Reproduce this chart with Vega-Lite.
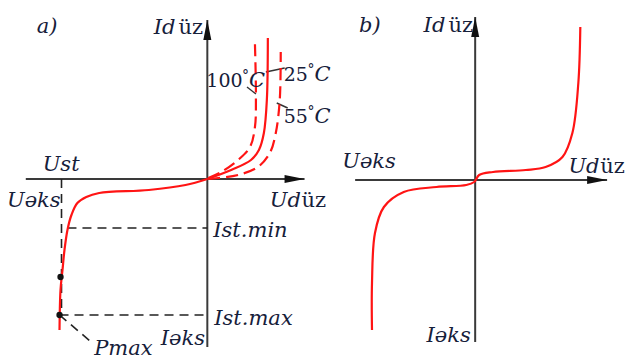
{
  "$schema": "https://vega.github.io/schema/vega-lite/v6.json",
  "width": 625,
  "height": 361,
  "autosize": {"type": "fit", "contains": "padding"},
  "padding": 0,
  "background": "white",
  "config": {"view": {"stroke": null}},
  "datasets": {
    "paths": [
      {"kind": "axis", "seg": "a_h", "i": 0, "u": 26, "v": 179},
      {"kind": "axis", "seg": "a_h", "i": 1, "u": 307, "v": 179},
      {"kind": "axis", "seg": "a_v", "i": 0, "u": 209, "v": 347},
      {"kind": "axis", "seg": "a_v", "i": 1, "u": 209, "v": 20},
      {"kind": "axis", "seg": "b_h", "i": 0, "u": 358, "v": 180},
      {"kind": "axis", "seg": "b_h", "i": 1, "u": 612, "v": 180},
      {"kind": "axis", "seg": "b_v", "i": 0, "u": 479, "v": 342},
      {"kind": "axis", "seg": "b_v", "i": 1, "u": 479, "v": 17},

      {"kind": "guide", "seg": "ust", "i": 0, "u": 62, "v": 179},
      {"kind": "guide", "seg": "ust", "i": 1, "u": 62, "v": 315},
      {"kind": "guide", "seg": "stmin", "i": 0, "u": 68, "v": 228},
      {"kind": "guide", "seg": "stmin", "i": 1, "u": 209, "v": 228},
      {"kind": "guide", "seg": "stmax", "i": 0, "u": 60, "v": 315},
      {"kind": "guide", "seg": "stmax", "i": 1, "u": 209, "v": 315},
      {"kind": "guide", "seg": "pmax", "i": 0, "u": 60, "v": 315},
      {"kind": "guide", "seg": "pmax", "i": 1, "u": 92, "v": 342},

      {"kind": "leader", "seg": "t100", "i": 0, "u": 249, "v": 87},
      {"kind": "leader", "seg": "t100", "i": 1, "u": 258, "v": 94},
      {"kind": "leader", "seg": "t25", "i": 0, "u": 268, "v": 72},
      {"kind": "leader", "seg": "t25", "i": 1, "u": 287, "v": 68},
      {"kind": "leader", "seg": "t55", "i": 0, "u": 279, "v": 103},
      {"kind": "leader", "seg": "t55", "i": 1, "u": 290, "v": 108},

      {"kind": "curve", "seg": "rev_a", "i": 0, "u": 209, "v": 179},
      {"kind": "curve", "seg": "rev_a", "i": 1, "u": 187, "v": 185},
      {"kind": "curve", "seg": "rev_a", "i": 2, "u": 150, "v": 190},
      {"kind": "curve", "seg": "rev_a", "i": 3, "u": 100, "v": 193},
      {"kind": "curve", "seg": "rev_a", "i": 4, "u": 87, "v": 197},
      {"kind": "curve", "seg": "rev_a", "i": 5, "u": 78, "v": 203},
      {"kind": "curve", "seg": "rev_a", "i": 6, "u": 72, "v": 215},
      {"kind": "curve", "seg": "rev_a", "i": 7, "u": 68, "v": 230},
      {"kind": "curve", "seg": "rev_a", "i": 8, "u": 65, "v": 250},
      {"kind": "curve", "seg": "rev_a", "i": 9, "u": 63, "v": 270},
      {"kind": "curve", "seg": "rev_a", "i": 10, "u": 61, "v": 290},
      {"kind": "curve", "seg": "rev_a", "i": 11, "u": 60, "v": 330},

      {"kind": "curve", "seg": "fwd25", "i": 0, "u": 209, "v": 179},
      {"kind": "curve", "seg": "fwd25", "i": 1, "u": 233, "v": 170},
      {"kind": "curve", "seg": "fwd25", "i": 2, "u": 253, "v": 160},
      {"kind": "curve", "seg": "fwd25", "i": 3, "u": 261, "v": 150},
      {"kind": "curve", "seg": "fwd25", "i": 4, "u": 266, "v": 133},
      {"kind": "curve", "seg": "fwd25", "i": 5, "u": 269, "v": 100},
      {"kind": "curve", "seg": "fwd25", "i": 6, "u": 270, "v": 38},

      {"kind": "curveDash", "seg": "fwd100", "i": 0, "u": 210, "v": 178},
      {"kind": "curveDash", "seg": "fwd100", "i": 1, "u": 223, "v": 172},
      {"kind": "curveDash", "seg": "fwd100", "i": 2, "u": 240, "v": 160},
      {"kind": "curveDash", "seg": "fwd100", "i": 3, "u": 252, "v": 147},
      {"kind": "curveDash", "seg": "fwd100", "i": 4, "u": 257, "v": 127},
      {"kind": "curveDash", "seg": "fwd100", "i": 5, "u": 258, "v": 97},
      {"kind": "curveDash", "seg": "fwd100", "i": 6, "u": 257, "v": 44},

      {"kind": "curveDash", "seg": "fwd55", "i": 0, "u": 210, "v": 179},
      {"kind": "curveDash", "seg": "fwd55", "i": 1, "u": 220, "v": 178},
      {"kind": "curveDash", "seg": "fwd55", "i": 2, "u": 240, "v": 175},
      {"kind": "curveDash", "seg": "fwd55", "i": 3, "u": 260, "v": 167},
      {"kind": "curveDash", "seg": "fwd55", "i": 4, "u": 272, "v": 153},
      {"kind": "curveDash", "seg": "fwd55", "i": 5, "u": 278, "v": 133},
      {"kind": "curveDash", "seg": "fwd55", "i": 6, "u": 282, "v": 100},
      {"kind": "curveDash", "seg": "fwd55", "i": 7, "u": 283, "v": 52},

      {"kind": "curve", "seg": "b", "i": 0, "u": 375, "v": 330},
      {"kind": "curve", "seg": "b", "i": 1, "u": 375, "v": 283},
      {"kind": "curve", "seg": "b", "i": 2, "u": 378, "v": 233},
      {"kind": "curve", "seg": "b", "i": 3, "u": 387, "v": 207},
      {"kind": "curve", "seg": "b", "i": 4, "u": 407, "v": 192},
      {"kind": "curve", "seg": "b", "i": 5, "u": 440, "v": 187},
      {"kind": "curve", "seg": "b", "i": 6, "u": 470, "v": 185},
      {"kind": "curve", "seg": "b", "i": 7, "u": 478, "v": 182},
      {"kind": "curve", "seg": "b", "i": 8, "u": 483, "v": 175},
      {"kind": "curve", "seg": "b", "i": 9, "u": 497, "v": 172},
      {"kind": "curve", "seg": "b", "i": 10, "u": 530, "v": 170},
      {"kind": "curve", "seg": "b", "i": 11, "u": 550, "v": 167},
      {"kind": "curve", "seg": "b", "i": 12, "u": 567, "v": 157},
      {"kind": "curve", "seg": "b", "i": 13, "u": 577, "v": 133},
      {"kind": "curve", "seg": "b", "i": 14, "u": 583, "v": 83},
      {"kind": "curve", "seg": "b", "i": 15, "u": 585, "v": 27}
    ],
    "arrows": [
      {"dir": "up", "u": 209, "v": 20},
      {"dir": "up", "u": 479, "v": 17},
      {"dir": "right", "u": 307, "v": 179},
      {"dir": "right", "u": 612, "v": 180}
    ],
    "dots": [
      {"u": 61, "v": 277},
      {"u": 60, "v": 315}
    ],
    "labels": [
      {"style": "italic", "t": "a)", "u": 37, "v": 33},
      {"style": "italic", "t": "Id", "u": 155, "v": 34},
      {"style": "normal", "t": "üz", "u": 180, "v": 34},
      {"style": "digits", "t": "100", "u": 208, "v": 87},
      {"style": "degree", "t": "°", "u": 244, "v": 80},
      {"style": "italic", "t": "C", "u": 251, "v": 87},
      {"style": "digits", "t": "25", "u": 286, "v": 81},
      {"style": "degree", "t": "°", "u": 310, "v": 74},
      {"style": "italic", "t": "C", "u": 317, "v": 81},
      {"style": "digits", "t": "55", "u": 286, "v": 123},
      {"style": "degree", "t": "°", "u": 310, "v": 116},
      {"style": "italic", "t": "C", "u": 317, "v": 123},
      {"style": "italic", "t": "Ust", "u": 43, "v": 171},
      {"style": "italic", "t": "Uəks", "u": 7, "v": 207},
      {"style": "italic", "t": "Ud", "u": 272, "v": 207},
      {"style": "normal", "t": "üz", "u": 304, "v": 207},
      {"style": "italic", "t": "Ist.min", "u": 215, "v": 237},
      {"style": "italic", "t": "Ist.max", "u": 216, "v": 325},
      {"style": "italic", "t": "Iəks", "u": 162, "v": 345},
      {"style": "italic", "t": "Pmax", "u": 95, "v": 355},
      {"style": "italic", "t": "b)", "u": 362, "v": 32},
      {"style": "italic", "t": "Id", "u": 427, "v": 32},
      {"style": "normal", "t": "üz", "u": 452, "v": 32},
      {"style": "italic", "t": "Uəks", "u": 345, "v": 168},
      {"style": "italic", "t": "Ud", "u": 573, "v": 173},
      {"style": "normal", "t": "üz", "u": 605, "v": 173},
      {"style": "italic", "t": "Iəks", "u": 430, "v": 342}
    ]
  },
  "encoding": {
    "x": {"field": "u", "type": "quantitative", "axis": null, "scale": {"domain": [0, 625], "nice": false, "zero": false}},
    "y": {"field": "v", "type": "quantitative", "axis": null, "scale": {"domain": [0, 361], "nice": false, "zero": false, "reverse": true}}
  },
  "layer": [
    {
      "data": {"name": "paths"},
      "transform": [{"filter": "datum.kind === 'axis'"}],
      "mark": {"type": "line", "color": "#3a3a3a", "strokeWidth": 2, "clip": false},
      "encoding": {"detail": {"field": "seg"}, "order": {"field": "i", "type": "quantitative"}}
    },
    {
      "data": {"name": "paths"},
      "transform": [{"filter": "datum.kind === 'guide'"}],
      "mark": {"type": "line", "color": "#222", "strokeWidth": 1.6, "strokeDash": [9, 6]},
      "encoding": {"detail": {"field": "seg"}, "order": {"field": "i", "type": "quantitative"}}
    },
    {
      "data": {"name": "paths"},
      "transform": [{"filter": "datum.kind === 'leader'"}],
      "mark": {"type": "line", "color": "#333", "strokeWidth": 1.4},
      "encoding": {"detail": {"field": "seg"}, "order": {"field": "i", "type": "quantitative"}}
    },
    {
      "data": {"name": "paths"},
      "transform": [{"filter": "datum.kind === 'curve'"}],
      "mark": {"type": "line", "color": "#ff1414", "strokeWidth": 2.2, "interpolate": "catmull-rom"},
      "encoding": {"detail": {"field": "seg"}, "order": {"field": "i", "type": "quantitative"}}
    },
    {
      "data": {"name": "paths"},
      "transform": [{"filter": "datum.kind === 'curveDash'"}],
      "mark": {"type": "line", "color": "#ff1414", "strokeWidth": 2.2, "strokeDash": [12, 6], "interpolate": "catmull-rom"},
      "encoding": {"detail": {"field": "seg"}, "order": {"field": "i", "type": "quantitative"}}
    },
    {
      "data": {"name": "arrows"},
      "transform": [{"filter": "datum.dir === 'up'"}],
      "mark": {"type": "point", "shape": "M 0 0 L 0.4 2 L -0.4 2 Z", "size": 400, "filled": true, "color": "#111", "opacity": 1, "angle": 0}
    },
    {
      "data": {"name": "arrows"},
      "transform": [{"filter": "datum.dir === 'right'"}],
      "mark": {"type": "point", "shape": "M 0 0 L 0.4 2 L -0.4 2 Z", "size": 400, "filled": true, "color": "#111", "opacity": 1, "angle": 90}
    },
    {
      "data": {"name": "dots"},
      "mark": {"type": "point", "shape": "circle", "size": 40, "filled": true, "color": "#111", "opacity": 1}
    },
    {
      "data": {"name": "labels"},
      "transform": [{"filter": "datum.style === 'italic'"}],
      "mark": {"type": "text", "font": "DejaVu Serif", "fontStyle": "italic", "fontSize": 21, "align": "left", "baseline": "alphabetic", "color": "#16203a"},
      "encoding": {"text": {"field": "t"}}
    },
    {
      "data": {"name": "labels"},
      "transform": [{"filter": "datum.style === 'normal'"}],
      "mark": {"type": "text", "font": "DejaVu Serif", "fontSize": 21, "align": "left", "baseline": "alphabetic", "color": "#16203a"},
      "encoding": {"text": {"field": "t"}}
    },
    {
      "data": {"name": "labels"},
      "transform": [{"filter": "datum.style === 'digits'"}],
      "mark": {"type": "text", "font": "DejaVu Serif", "fontSize": 19, "align": "left", "baseline": "alphabetic", "color": "#16203a"},
      "encoding": {"text": {"field": "t"}}
    },
    {
      "data": {"name": "labels"},
      "transform": [{"filter": "datum.style === 'degree'"}],
      "mark": {"type": "text", "font": "DejaVu Serif", "fontSize": 14, "align": "left", "baseline": "alphabetic", "color": "#16203a"},
      "encoding": {"text": {"field": "t"}}
    }
  ]
}
